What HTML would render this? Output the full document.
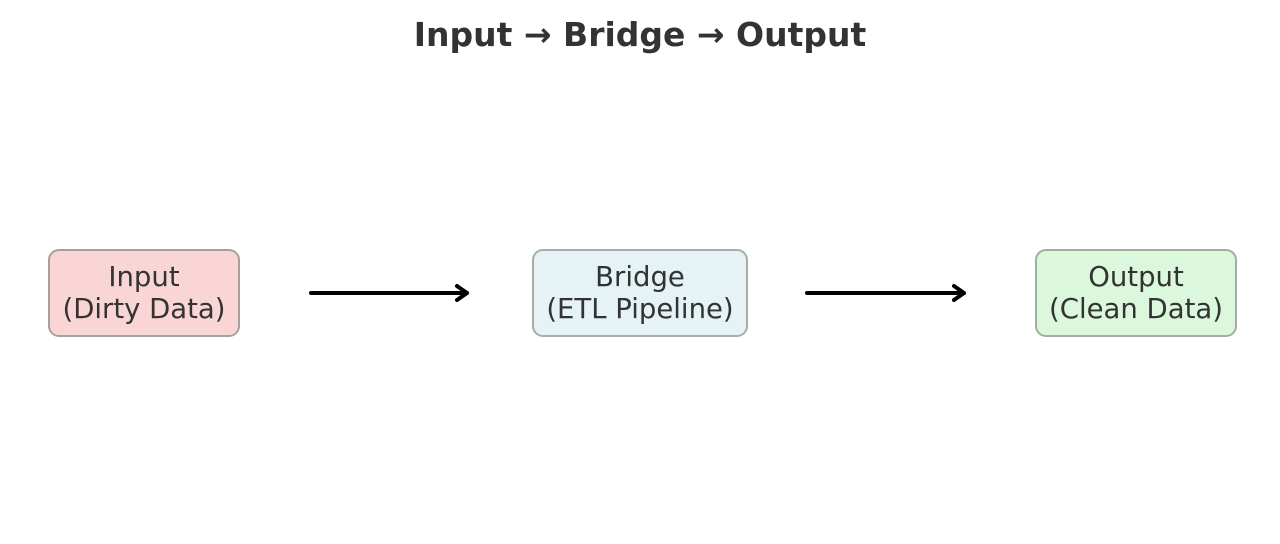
<!DOCTYPE html>
<html><head><style>
body{margin:0;width:1280px;height:544px;background:#fff;position:relative;font-family:"DejaVu Sans","Liberation Sans",sans-serif;color:#333;overflow:hidden}
.t{position:absolute;left:0;width:1280px;top:14px;text-align:center;font-weight:bold;font-size:33px;line-height:42px}
.b{position:absolute;top:249px;height:84px;border:2px solid #aaa;border-radius:11px;box-sizing:content-box;text-align:center;font-size:27.5px;line-height:32px}
.b div{position:absolute;left:0;right:0;top:10px;white-space:nowrap}
</style></head><body>
<div class="t">Input → Bridge → Output</div>
<div class="b" style="left:48px;width:188px;background:#f9d6d5;border-color:#a8a0a0"><div>Input<br>(Dirty Data)</div></div>
<div class="b" style="left:532px;width:212px;background:#e5f2f6;border-color:#a9acae"><div>Bridge<br>(ETL Pipeline)</div></div>
<div class="b" style="left:1035px;width:198px;background:#dbf7dc;border-color:#a2aea3"><div>Output<br>(Clean Data)</div></div>
<svg width="1280" height="544" style="position:absolute;left:0;top:0" fill="none" stroke="#000" stroke-width="4" stroke-linecap="round" stroke-linejoin="round">
<path d="M311 293H467M457 286L467 293L457 300"/>
<path d="M807 293H964M954 286L964 293L954 300"/>
</svg>
</body></html>
